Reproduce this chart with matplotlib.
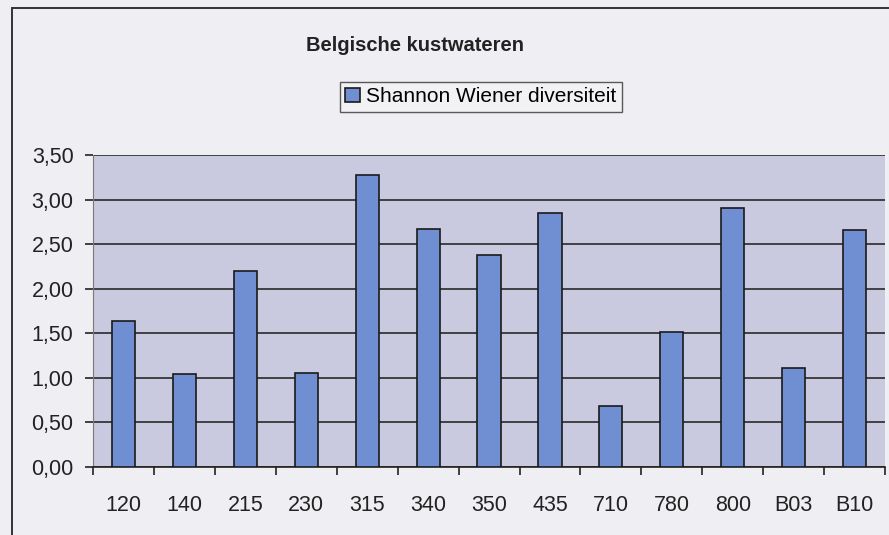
import numpy as np
import matplotlib
matplotlib.use("Agg")
import matplotlib.pyplot as plt
from matplotlib.patches import Rectangle
from matplotlib.ticker import FuncFormatter

# Shannon Wiener diversiteit per station
stations = ["120", "140", "215", "230", "315", "340", "350", "435", "710", "780", "800", "B03", "B10"]
diversiteit = [1.64, 1.04, 2.20, 1.05, 3.28, 2.67, 2.38, 2.85, 0.68, 1.52, 2.91, 1.11, 2.66]

plt.rcParams["font.family"] = ["Liberation Sans", "DejaVu Sans"]

fig = plt.figure(figsize=(8.89, 5.35), dpi=100, facecolor="#eeeef3")
ax = fig.add_axes([0.1046, 0.127, 0.891, 0.583])

# outer frame of the chart
fig.patches.append(Rectangle((0.0135, -0.05), 1.5, 1.035, transform=fig.transFigure,
                             fill=False, edgecolor="#333333", linewidth=1.4))

x = np.arange(len(stations))
ax.bar(x, diversiteit, width=0.38, color="#6f8fd2", edgecolor="#1a1a1a", linewidth=1.2,
       label="Shannon Wiener diversiteit", zorder=3)

ax.set_facecolor("#c9c9df")
ax.set_xlim(-0.5, len(stations) - 0.5)
ax.set_ylim(0, 3.5)
ax.set_yticks(np.arange(0, 3.51, 0.5))
ax.yaxis.set_major_formatter(FuncFormatter(lambda v, p: f"{v:.2f}".replace(".", ",")))
ax.grid(axis="y", color="#2a2a2a", linewidth=1.2, zorder=1)

ax.set_xticks(x)
ax.set_xticklabels(stations)
ax.set_xticks(np.arange(-0.5, len(stations), 1), minor=True)
ax.tick_params(axis="x", which="major", length=0, pad=20, labelsize=15.5, colors="#222222")
ax.tick_params(axis="x", which="minor", length=6, width=1.2, color="#222222")
ax.tick_params(axis="y", length=6, width=1.2, labelsize=15.5, pad=8, colors="#222222")

for s in ["top", "right"]:
    ax.spines[s].set_visible(False)
ax.spines["left"].set_color("#7a7a7a")
ax.spines["bottom"].set_color("#222222")
ax.spines["bottom"].set_linewidth(1.2)

fig.text(0.467, 0.915, "Belgische kustwateren", ha="center", va="center",
         fontsize=14.5, fontweight="bold", color="#222222")

leg = fig.legend(loc="center", bbox_to_anchor=(0.541, 0.819), fontsize=15,
                 frameon=True, fancybox=False, handlelength=0.7, handleheight=0.7,
                 handletextpad=0.3, borderpad=0.28)
leg.get_frame().set_edgecolor("#333333")
leg.get_frame().set_facecolor("#f4f4f6")
leg.get_frame().set_linewidth(1.0)

fig.savefig("out.png", dpi=100, facecolor=fig.get_facecolor())
